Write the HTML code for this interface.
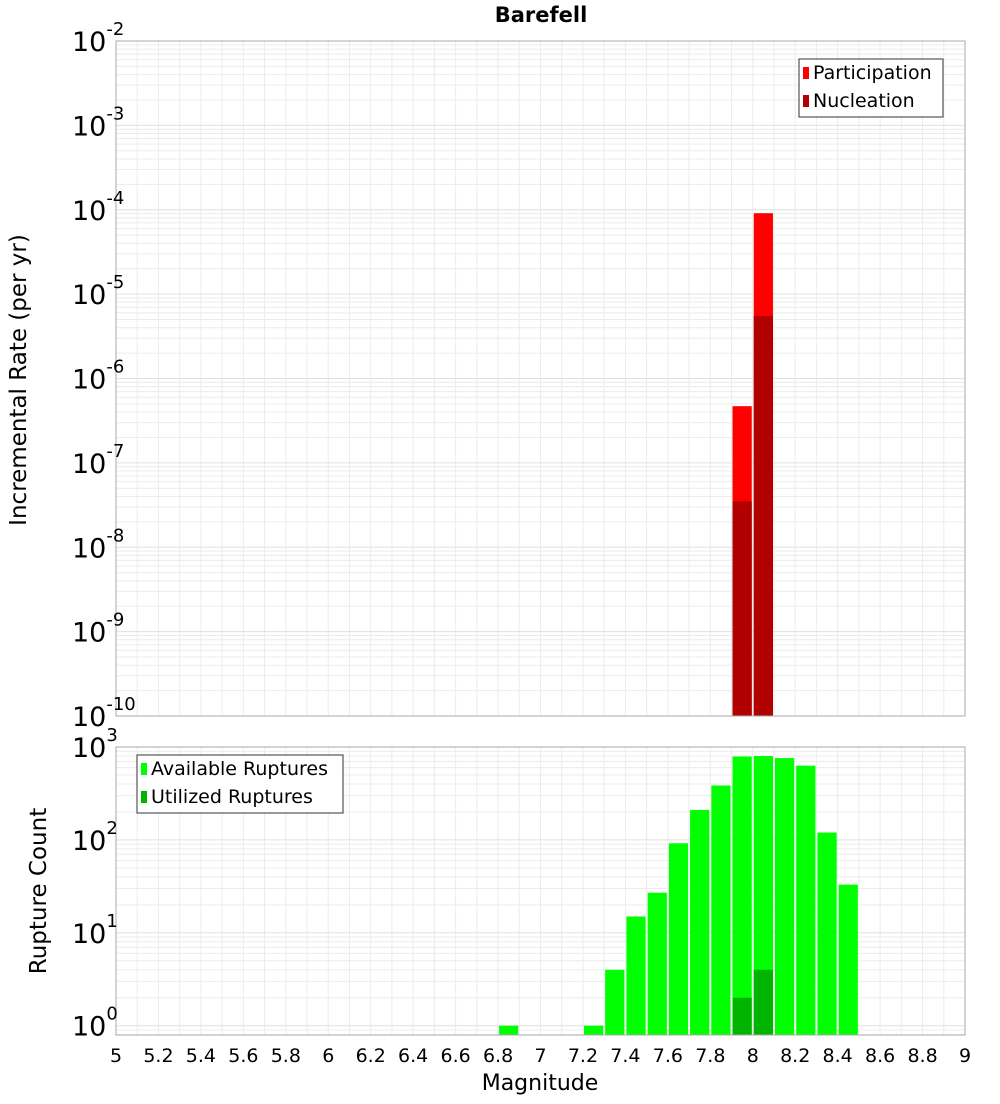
<!DOCTYPE html>
<html><head><meta charset="utf-8"><style>
body{margin:0;background:#fff;font-family:"DejaVu Sans","Liberation Sans",sans-serif}
</style></head><body>
<svg id="c" width="1000" height="1100" xmlns="http://www.w3.org/2000/svg" font-family="DejaVu Sans, Liberation Sans, sans-serif"></svg>
<script>
const binCenters=[7.95,8.05];
const participation=[4.7e-7,9.1e-5];
const nucleation=[3.5e-8,5.5e-6];
const countBins=[6.85,7.25,7.35,7.45,7.55,7.65,7.75,7.85,7.95,8.05,8.15,8.25,8.35,8.45];
const available=[1,1,4,15,27,92,210,385,790,800,760,630,120,33];
const utilBins=[7.95,8.05];
const utilized=[2,4];
const xTicks=[5,5.2,5.4,5.6,5.8,6,6.2,6.4,6.6,6.8,7,7.2,7.4,7.6,7.8,8,8.2,8.4,8.6,8.8,9];
const topExp=[-10,-9,-8,-7,-6,-5,-4,-3,-2];
const botExp=[0,1,2,3];

const svg=document.getElementById('c');const NS='http://www.w3.org/2000/svg';
function el(t,a,p){const e=document.createElementNS(NS,t);for(const k in a)e.setAttribute(k,a[k]);(p||svg).appendChild(e);return e;}
const X0=116,X1=965;
const xs=v=>X0+(v-5)/4*(X1-X0);
const T0=41,T1=716;const ty=v=>T1-(Math.log10(v)+10)/8*(T1-T0);
const B0=747,B1=1035;const bMin=-0.1;const by=v=>B1-(Math.log10(v)-bMin)/(3-bMin)*(B1-B0);

function panel(y0,y1,minE,maxE,yf,name){
  const g=el('g',{});
  
  for(let v=5;v<=9.001;v+=0.1){el('line',{x1:xs(v),x2:xs(v),y1:y0,y2:y1,stroke:'#ececec','stroke-width':1},g);}
  for(let e=Math.floor(minE);e<maxE;e++)for(let m=1;m<10;m++){const v=m*Math.pow(10,e);const y=yf(v);if(y<y0||y>y1)continue;el('line',{x1:X0,x2:X1,y1:y,y2:y,stroke:m==1?'#e0e0e0':'#ececec','stroke-width':1},g);}
}
panel(T0,T1,-10,-2,ty,'top');
panel(B0,B1,-1,3,by,'bottom');

const w=xs(0.1+5)-xs(5);
binCenters.forEach((c,i)=>{const r=el('rect',{x:xs(c)-w/2+1,y:ty(participation[i]),width:w-2,height:T1-ty(participation[i]),fill:'#ff0000'});
});
binCenters.forEach((c,i)=>{const r=el('rect',{x:xs(c)-w/2+1,y:ty(nucleation[i]),width:w-2,height:T1-ty(nucleation[i]),fill:'#b00000'});
});
countBins.forEach((c,i)=>{const r=el('rect',{x:xs(c)-w/2+1,y:by(available[i]),width:w-2,height:B1-by(available[i]),fill:'#00ff00'});
});
utilBins.forEach((c,i)=>{const r=el('rect',{x:xs(c)-w/2+1,y:by(utilized[i]),width:w-2,height:B1-by(utilized[i]),fill:'#00b400'});
});

el('rect',{x:X0,y:T0,width:X1-X0,height:T1-T0,fill:'none',stroke:'#aaa'});
el('rect',{x:X0,y:B0,width:X1-X0,height:B1-B0,fill:'none',stroke:'#aaa'});

xTicks.forEach(v=>{const t=el('text',{x:xs(v),y:1062,'font-size':19,'text-anchor':'middle',fill:'#000'});t.textContent=String(v);
});
function ylab(e,y){const t=el('text',{x:72,y:y+10,'font-size':27,'text-anchor':'start',fill:'#000'});
const a=el('tspan',{},t);a.textContent='10';const b=el('tspan',{dy:-16,'font-size':18},t);b.textContent=String(e);
}
topExp.forEach(e=>ylab(e,ty(Math.pow(10,e))));
botExp.forEach(e=>ylab(e,by(Math.pow(10,e))));

let t=el('text',{x:541,y:22,'font-size':21,'font-weight':'bold','text-anchor':'middle'});t.textContent='Barefell';

t=el('text',{x:540,y:1090,'font-size':22,'text-anchor':'middle'});t.textContent='Magnitude';

t=el('text',{x:0,y:0,'font-size':23,'text-anchor':'middle',transform:'translate(26,380) rotate(-90)'});t.textContent='Incremental Rate (per yr)';

t=el('text',{x:0,y:0,'font-size':23,'text-anchor':'middle',transform:'translate(46,891) rotate(-90)'});t.textContent='Rupture Count';


function legend(x,y,wd,items,name){const g=el('g',{});
el('rect',{x:x,y:y,width:wd,height:58,fill:'#fff',stroke:'#333'},g);
items.forEach((it,i)=>{el('rect',{x:x+4,y:y+8+i*28,width:6,height:12,fill:it[1]},g);
const tx=el('text',{x:x+14,y:y+20+i*28,'font-size':19},g);tx.textContent=it[0];});}
legend(799,59,144,[['Participation','#ff0000'],['Nucleation','#b00000']],'top-legend');
legend(137,755,206,[['Available Ruptures','#00ff00'],['Utilized Ruptures','#00b400']],'bottom-legend');
</script>
</body></html>
